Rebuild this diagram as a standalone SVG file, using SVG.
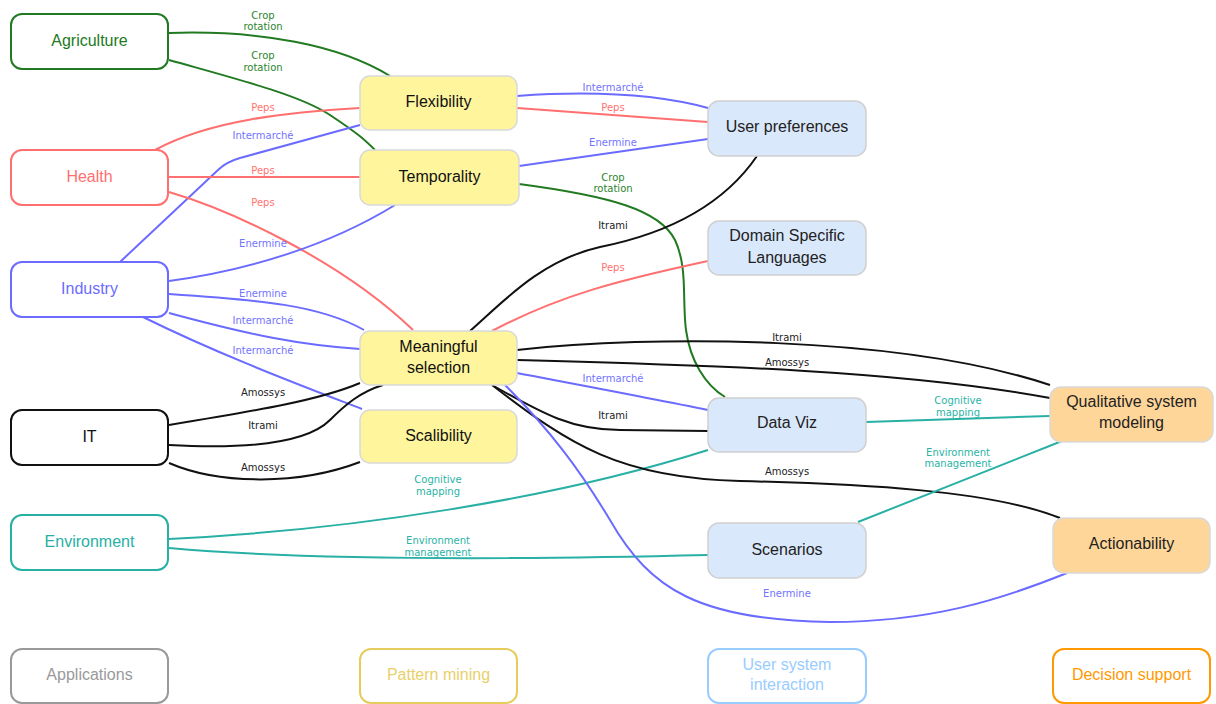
<svg xmlns="http://www.w3.org/2000/svg" width="1216" height="704" viewBox="0 0 1216 704">
<style>
.nt{font-family:"Liberation Sans",Arial,sans-serif;font-size:16px;text-anchor:middle;dominant-baseline:central}
.el{font-family:"DejaVu Sans",sans-serif;font-size:10px;text-anchor:middle}
.e{fill:none;stroke-width:2}
.g{stroke:#217a21}.r{stroke:#ff6f6f}.b{stroke:#6b6bff}.k{stroke:#111}.t{stroke:#28b0a4}
.lg{fill:#2b852b}.lr{fill:#ff7373}.lb{fill:#7373ff}.lk{fill:#222}.lt{fill:#2ab3a6}
.app{fill:#fff;stroke-width:2}
.pm{fill:#fff59d;stroke:#d9d9d9;stroke-width:1.5}
.us{fill:#dae8fc;stroke:#d0d0d0;stroke-width:1.5}
.ds{fill:#ffd699;stroke:#d9d9d9;stroke-width:1.5}
</style>
<rect width="1216" height="704" fill="#fff"/>
<g id="connectors">
<path class="e g" d="M169,33 C260,30 340,45 390,76"/>
<path class="e g" d="M169,60 C240,80 300,95 330,115 S365,140 375,150"/>
<path class="e r" d="M155,150 C210,120 290,112 360,108"/>
<path class="e b" d="M120,262 L218,170 Q226,162 240,158 L360,125"/>
<path class="e r" d="M169,177 L360,177"/>
<path class="e r" d="M169,192 C230,210 340,260 413,330"/>
<path class="e b" d="M169,281 C250,270 330,245 395,205"/>
<path class="e b" d="M169,294 C260,300 320,305 364,330"/>
<path class="e b" d="M169,313 C250,335 300,345 360,349"/>
<path class="e b" d="M143,317 C220,355 300,385 362,409"/>
<path class="e k" d="M169,425 C260,410 320,400 360,383"/>
<path class="e k" d="M169,445 C260,450 310,440 330,420 C345,405 360,392 383,385"/>
<path class="e k" d="M169,463 C220,485 300,485 360,462"/>
<path class="e t" d="M169,539 C350,530 550,500 708,450"/>
<path class="e t" d="M169,548 C300,560 500,560 708,555"/>
<path class="e b" d="M517,96 C600,90 660,95 708,108"/>
<path class="e r" d="M517,108 L708,122"/>
<path class="e b" d="M519,166 L708,139"/>
<path class="e g" d="M519,184 C610,196 660,210 675,240 C688,268 682,300 686,330 C690,360 705,385 725,397"/>
<path class="e k" d="M470,331 C500,305 540,260 600,247 C660,235 720,210 757,156"/>
<path class="e r" d="M492,331 C560,295 620,280 708,261"/>
<path class="e k" d="M517,350 C650,335 900,335 1050,385"/>
<path class="e k" d="M517,360 C700,365 900,370 1050,398"/>
<path class="e b" d="M517,373 C580,385 650,398 708,410"/>
<path class="e k" d="M492,385 C540,412 570,430 620,430 L708,431"/>
<path class="e k" d="M492,385 C570,445 620,478 740,481 C860,484 990,490 1060,518"/>
<path class="e b" d="M505,385 C550,430 580,470 610,520 C650,590 700,620 830,622 C930,622 1000,600 1067,573"/>
<path class="e t" d="M866,422 L1050,416"/>
<path class="e t" d="M858,522 L1062,441"/>
<text class="el lg" x="263" y="18.5">Crop</text><text class="el lg" x="263" y="30">rotation</text>
<text class="el lg" x="263" y="58.5">Crop</text><text class="el lg" x="263" y="70.5">rotation</text>
<text class="el lr" x="263" y="110.5">Peps</text>
<text class="el lb" x="263" y="138.5">Intermarché</text>
<text class="el lr" x="263" y="173.5">Peps</text>
<text class="el lr" x="263" y="205.5">Peps</text>
<text class="el lb" x="263" y="246.5">Enermine</text>
<text class="el lb" x="263" y="296.5">Enermine</text>
<text class="el lb" x="263" y="323.5">Intermarché</text>
<text class="el lb" x="263" y="353.5">Intermarché</text>
<text class="el lk" x="263" y="395.5">Amossys</text>
<text class="el lk" x="263" y="428.5">Itrami</text>
<text class="el lk" x="263" y="470.5">Amossys</text>
<text class="el lt" x="438" y="482.5">Cognitive</text><text class="el lt" x="438" y="494.5">mapping</text>
<text class="el lt" x="438" y="543.5">Environment</text><text class="el lt" x="438" y="555.5">management</text>
<text class="el lb" x="613" y="90.5">Intermarché</text>
<text class="el lr" x="613" y="110.5">Peps</text>
<text class="el lb" x="613" y="145.5">Enermine</text>
<text class="el lg" x="613" y="180.5">Crop</text><text class="el lg" x="613" y="192">rotation</text>
<text class="el lk" x="613" y="228.5">Itrami</text>
<text class="el lr" x="613" y="270.5">Peps</text>
<text class="el lk" x="787" y="340.5">Itrami</text>
<text class="el lk" x="787" y="365.5">Amossys</text>
<text class="el lb" x="613" y="381.5">Intermarché</text>
<text class="el lk" x="613" y="418.5">Itrami</text>
<text class="el lk" x="787" y="474.5">Amossys</text>
<text class="el lb" x="787" y="596.5">Enermine</text>
<text class="el lt" x="958" y="403.5">Cognitive</text><text class="el lt" x="958" y="415.5">mapping</text>
<text class="el lt" x="958" y="455.5">Environment</text><text class="el lt" x="958" y="467">management</text>
</g>
<g id="agriculture"><rect class="app" x="11" y="14" width="157" height="55" rx="11" stroke="#217a21"/><text class="nt" x="89.5" y="40" fill="#217a21">Agriculture</text></g>
<g id="health"><rect class="app" x="11" y="150" width="157" height="55" rx="11" stroke="#ff6f6f"/><text class="nt" x="89.5" y="176" fill="#ff6f6f">Health</text></g>
<g id="industry"><rect class="app" x="11" y="262" width="157" height="55" rx="11" stroke="#6b6bff"/><text class="nt" x="89.5" y="288" fill="#6b6bff">Industry</text></g>
<g id="it"><rect class="app" x="11" y="410" width="157" height="55" rx="11" stroke="#111"/><text class="nt" x="89.5" y="436" fill="#111">IT</text></g>
<g id="environment"><rect class="app" x="11" y="515" width="157" height="55" rx="11" stroke="#28b0a4"/><text class="nt" x="89.5" y="541" fill="#28b0a4">Environment</text></g>
<g id="applications"><rect class="app" x="11" y="649" width="157" height="54" rx="11" stroke="#999"/><text class="nt" x="89.5" y="674" fill="#999">Applications</text></g>
<g id="flexibility"><rect class="pm" x="360" y="76" width="157" height="54" rx="10"/><text class="nt" x="438.5" y="101.5" fill="#111">Flexibility</text></g>
<g id="temporality"><rect class="pm" x="360" y="150" width="159" height="55" rx="10"/><text class="nt" x="439.5" y="176" fill="#111">Temporality</text></g>
<g id="meaningful"><rect class="pm" x="360" y="331" width="157" height="54" rx="10"/><text class="nt" x="438.5" y="346.5" fill="#111">Meaningful</text><text class="nt" x="438.5" y="367.5" fill="#111">selection</text></g>
<g id="scalibility"><rect class="pm" x="360" y="410" width="157" height="53" rx="10"/><text class="nt" x="438.5" y="435" fill="#111">Scalibility</text></g>
<g id="pattern-mining"><rect class="app" x="360" y="649" width="157" height="54" rx="11" stroke="#e6cc5c"/><text class="nt" x="438.5" y="674" fill="#e8d06a">Pattern mining</text></g>
<g id="user-preferences"><rect class="us" x="708" y="101" width="158" height="55" rx="11"/><text class="nt" x="787" y="126.5" fill="#222">User preferences</text></g>
<g id="dsl"><rect class="us" x="708" y="221" width="158" height="54" rx="11"/><text class="nt" x="787" y="235.5" fill="#222">Domain Specific</text><text class="nt" x="787" y="257" fill="#222">Languages</text></g>
<g id="data-viz"><rect class="us" x="708" y="398" width="158" height="54" rx="11"/><text class="nt" x="787" y="422.5" fill="#222">Data Viz</text></g>
<g id="scenarios"><rect class="us" x="708" y="523" width="158" height="55" rx="11"/><text class="nt" x="787" y="549" fill="#222">Scenarios</text></g>
<g id="user-system-interaction"><rect class="app" x="708" y="649" width="158" height="54" rx="11" stroke="#99ccff"/><text class="nt" x="787" y="664.5" fill="#99ccff">User system</text><text class="nt" x="787" y="684.5" fill="#99ccff">interaction</text></g>
<g id="qualitative"><rect class="ds" x="1050" y="387" width="163" height="55" rx="11"/><text class="nt" x="1131.5" y="401.5" fill="#222">Qualitative system</text><text class="nt" x="1131.5" y="422" fill="#222">modeling</text></g>
<g id="actionability"><rect class="ds" x="1053" y="518" width="157" height="55" rx="11"/><text class="nt" x="1131.5" y="543.5" fill="#222">Actionability</text></g>
<g id="decision-support"><rect class="app" x="1053" y="649" width="157" height="54" rx="11" stroke="#ff9900"/><text class="nt" x="1131.5" y="674" fill="#ff9900">Decision support</text></g>
</svg>
